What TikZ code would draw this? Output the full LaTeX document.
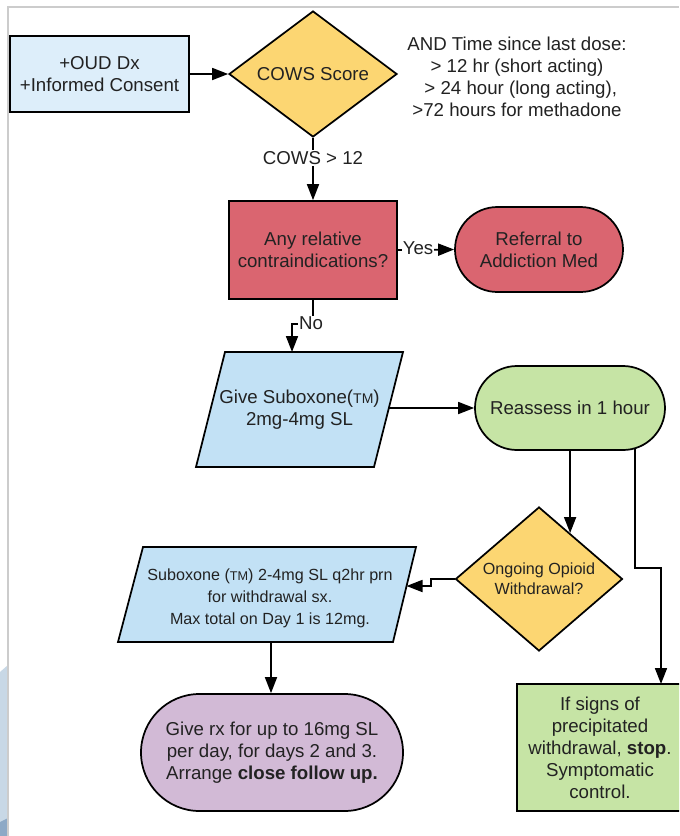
\documentclass[tikz,border=0pt]{standalone}
\usepackage{fontspec}
\setmainfont{Liberation Sans}
\usetikzlibrary{arrows.meta,shapes.geometric,shapes.misc,calc}
\definecolor{bluebox}{HTML}{DDEEFA}
\definecolor{yell}{HTML}{FCD672}
\definecolor{redb}{HTML}{DA6570}
\definecolor{parab}{HTML}{C2E1F5}
\definecolor{greenb}{HTML}{C6E4A5}
\definecolor{purp}{HTML}{D2BAD6}
\definecolor{txt}{HTML}{222222}
\definecolor{framec}{HTML}{CCCCCC}
\definecolor{edgeblue}{HTML}{C8D8E6}
\definecolor{edgedark}{HTML}{8DA9C6}
\begin{document}
\begin{tikzpicture}[x=0.75pt,y=-0.75pt,
  base/.style={draw=black, line width=1.3pt, text=txt, align=center, inner sep=0pt,
    font=\fontsize{14}{16.5}\selectfont},
  rectbox/.style={base, rectangle},
  dia/.style={base, diamond},
  stad/.style={base, rounded rectangle},
  shp/.style={draw=black, line width=1.3pt},
  plain/.style={text=txt, align=center, inner sep=0pt, font=\fontsize{14}{16.5}\selectfont},
  smalltxt/.style={font=\fontsize{12.1}{16.5}\selectfont},
  arr/.style={line width=1.3pt, -{Triangle[length=12pt,width=9pt]}},
  lbl/.style={fill=white, inner sep=1pt, text=txt, font=\fontsize{14}{16.5}\selectfont},
]
\clip (0,0) rectangle (679,836);
\fill[white] (0,0) rectangle (679,836);
% frame and edge artefact
\fill[edgeblue] (0,672) -- (8,665) -- (8,836) -- (0,836) -- cycle;
\fill[edgedark] (0,822) -- (8,818) -- (8,836) -- (0,836) -- cycle;
\draw[framec, line width=0.8pt] (8,836) -- (8,7) -- (679,7);

% nodes
\node[rectbox, fill=bluebox, minimum width=134.25pt, minimum height=57pt] (start) at (99.5,74)
  {+OUD Dx\\+Informed Consent};
\node[dia, fill=yell, minimum width=126pt, minimum height=94.5pt] (cows) at (313,74) {COWS Score};
\node[plain] (note) at (517,76.5)
  {AND Time since last dose:\\> 12 hr (short acting)\\\hspace{0.4em}> 24 hour (long acting),\\>72 hours for methadone};
\node[rectbox, fill=redb, minimum width=126pt, minimum height=73.5pt] (contra) at (313,250)
  {Any relative\\contraindications?};
\node[stad, fill=redb, minimum width=126pt, minimum height=63.75pt] (refer) at (539,249.5)
  {Referral to\\Addiction Med};

% parallelogram 1
\draw[shp, fill=parab] (225,352) -- (403,352) -- (374,467) -- (196,467) -- cycle;
\coordinate (p1top) at (292,352);
\coordinate (p1right) at (388.6,408);
\node[plain] (give) at (299.5,409.5)
  {Give Suboxone({\fontsize{10.5}{10}\selectfont TM})\\2mg-4mg SL};

\node[stad, fill=greenb, minimum width=142.5pt, minimum height=63pt] (reassess) at (570,408)
  {Reassess in 1 hour};
\node[dia, fill=yell, minimum width=125.25pt, minimum height=96pt, font=\fontsize{12.1}{15}\selectfont] (ongoing) at (539,579)
  {Ongoing Opioid\\Withdrawal?};

% parallelogram 2
\draw[shp, fill=parab] (143,547) -- (416,547) -- (393,642) -- (118,642) -- cycle;
\coordinate (p2right) at (406.5,586);
\coordinate (p2bottom) at (271,642);
\node[plain, smalltxt] (prn) at (270,598)
  {Suboxone ({\fontsize{9.5}{10}\selectfont TM}) 2-4mg SL q2hr prn\\for withdrawal sx.\\Max total on Day 1 is 12mg.};

\node[stad, fill=purp, minimum width=196.5pt, minimum height=87.75pt] (rx) at (272,752.5)
  {Give rx for up to 16mg SL\\per day, for days 2 and 3.\\Arrange \textbf{close follow up.}};
\node[rectbox, fill=greenb, minimum width=124.5pt, minimum height=95.25pt] (stopbox) at (600,747.5)
  {If signs of\\precipitated\\withdrawal, \textbf{stop}.\\Symptomatic\\control.};
\coordinate (rb) at (635,448);
\coordinate (gtop) at (661,684);

% connectors
\draw[arr] (start.east) -- (cows.west);
\draw[arr] (cows.south) -- (contra.north);
\node[lbl] (lcows) at (313,158) {COWS > 12};
\draw[arr] (contra.east) -- (refer.west);
\node[lbl, inner sep=0.5pt] (lyes) at (418,248) {Yes};
\draw[arr] (contra.south) -- ++(0,24) -| (p1top);
\node[lbl, inner sep=0.5pt] (lno) at (311,323) {No};
\draw[arr] (p1right) -- (p1right -| reassess.west);
\draw[arr] (reassess.south) -- ($(ongoing.north)!0.369!(ongoing.east)$);
\draw[arr] (rb) -- (635,568) -| (gtop);
\draw[arr] (ongoing.west) -- ++(-24,0) |- (p2right);
\draw[arr] (p2bottom) -- (p2bottom |- rx.north);
\end{tikzpicture}
\end{document}
